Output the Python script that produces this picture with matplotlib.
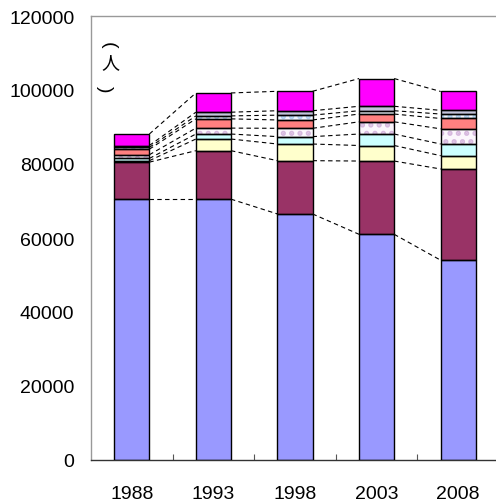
import numpy as np
import matplotlib
matplotlib.use("Agg")
import matplotlib.pyplot as plt

plt.rcParams['font.family'] = ['Liberation Sans', 'Noto Sans CJK JP', 'DejaVu Sans']
plt.rcParams['hatch.linewidth'] = 2.5

# ---------------- DATA ----------------
years = ["1988", "1993", "1998", "2003", "2008"]

blue     = [70500, 70500, 66500, 61000, 54000]
maroon   = [10000, 13100, 14400, 19800, 24650]
yellow   = [400,   3150,  4500,  4200,  3600]
cyan     = [600,   1350,  2000,  3100,  3150]
spotted  = [1000,  1600,  2250,  3300,  4100]
salmon   = [1500,  2500,  2250,  2100,  2800]
dotted   = [500,   800,   1300,  900,   1200]
lavender = [500,   1000,  1200,  1200,  1000]
magenta  = [3100,  5200,  5250,  7500,  5100]

yticks = [0, 20000, 40000, 60000, 80000, 100000, 120000]

# (values, face colour, hatch, hatch colour)
layers = [
    (blue,     "#9999FF", None, None),
    (maroon,   "#993366", None, None),
    (yellow,   "#FFFFCC", None, None),
    (cyan,     "#CCFFFF", None, None),
    (spotted,  "#FBF6FC", "..", "#D6B8DE"),
    (salmon,   "#FF8080", None, None),
    (dotted,   "#F2F7FF", "..", "#B0D0F0"),
    (lavender, "#C4C4DC", None, None),
    (magenta,  "#FF00FF", None, None),
]

# ---------------- PLOT ----------------
fig = plt.figure(figsize=(4.96, 5.02), dpi=100)
ax = fig.add_axes([91 / 496, 41 / 502, 408 / 496, 444 / 502])

x = np.arange(len(years))
w = 0.43
bottom = np.zeros(len(years))
tops = []
for vals, face, hatch, hcol in layers:
    vals = np.array(vals, dtype=float)
    if hatch:
        ax.bar(x, vals, w, bottom=bottom, color=face, hatch=hatch,
               edgecolor=hcol, linewidth=0, zorder=2)
    else:
        ax.bar(x, vals, w, bottom=bottom, color=face, linewidth=0, zorder=2)
    ax.bar(x, vals, w, bottom=bottom, fill=False, edgecolor="black",
           linewidth=1.0, zorder=3)
    bottom = bottom + vals
    tops.append(bottom.copy())

# series lines between neighbouring bars
for t in tops:
    for i in range(len(years) - 1):
        ax.plot([x[i] + w / 2, x[i + 1] - w / 2], [t[i], t[i + 1]],
                color="black", linewidth=0.8, dashes=(4, 3), zorder=1)

ax.set_xlim(-0.5, len(years) - 0.5)
ax.set_ylim(0, 120000)
ax.set_yticks(yticks)
ax.set_yticklabels([str(v) for v in yticks])
ax.tick_params(axis="y", length=0, pad=12, labelsize=14)

ax.set_xticks(x)
ax.set_xticklabels(years)
ax.tick_params(axis="x", length=0, pad=18, labelsize=14)
ax.set_xticks(x[:-1] + 0.5, minor=True)
ax.tick_params(axis="x", which="minor", direction="in", length=4,
               width=0.8, color="#555555")

for s in ["left", "top", "right"]:
    ax.spines[s].set_color("#999999")
    ax.spines[s].set_linewidth(1.0)
ax.spines["bottom"].set_color("#333333")
ax.spines["bottom"].set_linewidth(1.0)

# unit label, written vertically: (人)
W, H = 496, 502
fig.text(108 / W, 1 - 45 / H, "(", rotation=-90, ha="center", va="center",
         fontsize=14)
fig.text(110 / W, 1 - 63 / H, "人", ha="center", va="center", fontsize=13,
         family=["Noto Sans CJK JP", "DejaVu Sans"])
fig.text(104 / W, 1 - 89 / H, ")", rotation=-90, ha="center", va="center",
         fontsize=14)

fig.savefig("out.png", dpi=100)
